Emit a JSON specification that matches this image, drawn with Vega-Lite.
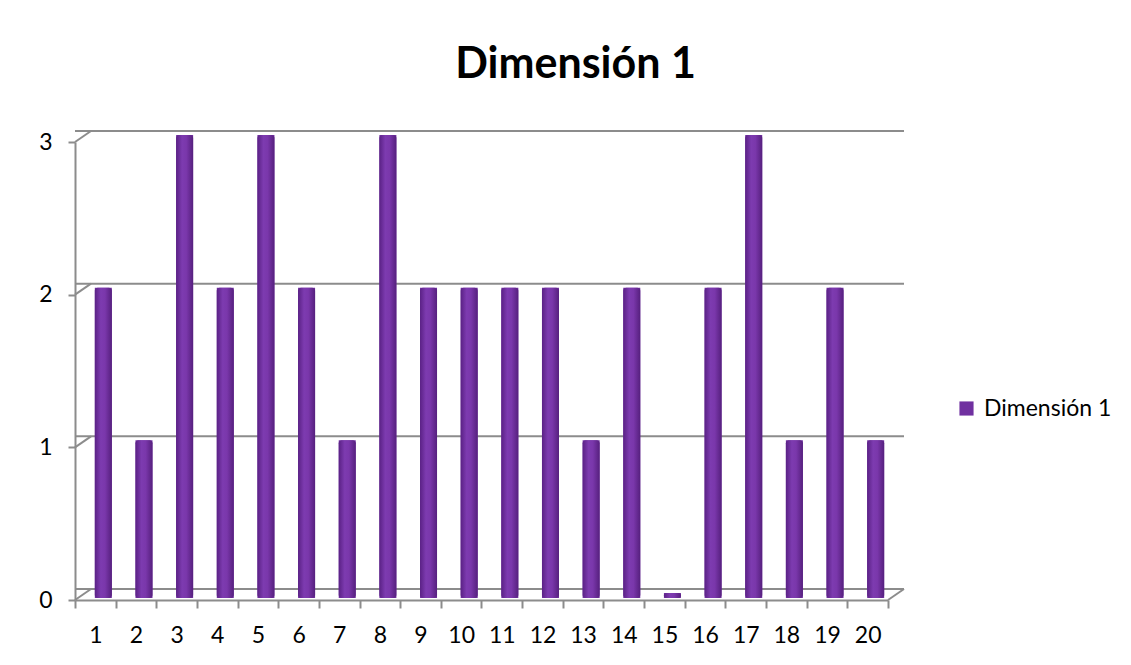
{
  "$schema": "https://vega.github.io/schema/vega-lite/v6.json",
  "autosize": "none",
  "width": 813,
  "height": 458,
  "padding": {"left": 75, "top": 142, "right": 243, "bottom": 65},
  "background": "white",
  "config": {
    "font": "Lato",
    "view": {"stroke": null}
  },
  "title": {
    "text": "Dimensión 1",
    "fontSize": 43,
    "fontWeight": "bold",
    "color": "#000000",
    "anchor": "middle",
    "baseline": "alphabetic",
    "dx": 94,
    "offset": 9
  },
  "datasets": {
    "bars": [
      {"pregunta": 1, "valor": 2, "serie": "Dimensión 1"},
      {"pregunta": 2, "valor": 1, "serie": "Dimensión 1"},
      {"pregunta": 3, "valor": 3, "serie": "Dimensión 1"},
      {"pregunta": 4, "valor": 2, "serie": "Dimensión 1"},
      {"pregunta": 5, "valor": 3, "serie": "Dimensión 1"},
      {"pregunta": 6, "valor": 2, "serie": "Dimensión 1"},
      {"pregunta": 7, "valor": 1, "serie": "Dimensión 1"},
      {"pregunta": 8, "valor": 3, "serie": "Dimensión 1"},
      {"pregunta": 9, "valor": 2, "serie": "Dimensión 1"},
      {"pregunta": 10, "valor": 2, "serie": "Dimensión 1"},
      {"pregunta": 11, "valor": 2, "serie": "Dimensión 1"},
      {"pregunta": 12, "valor": 2, "serie": "Dimensión 1"},
      {"pregunta": 13, "valor": 1, "serie": "Dimensión 1"},
      {"pregunta": 14, "valor": 2, "serie": "Dimensión 1"},
      {"pregunta": 15, "valor": 0, "serie": "Dimensión 1"},
      {"pregunta": 16, "valor": 2, "serie": "Dimensión 1"},
      {"pregunta": 17, "valor": 3, "serie": "Dimensión 1"},
      {"pregunta": 18, "valor": 1, "serie": "Dimensión 1"},
      {"pregunta": 19, "valor": 2, "serie": "Dimensión 1"},
      {"pregunta": 20, "valor": 1, "serie": "Dimensión 1"}
    ],
    "grid": [{"v": 0}, {"v": 1}, {"v": 2}, {"v": 3}]
  },
  "data": {"name": "bars"},
  "resolve": {"axis": {"x": "shared", "y": "shared"}},
  "layer": [
    {
      "data": {"name": "grid"},
      "mark": {"type": "rule", "color": "#8c8c8c", "strokeWidth": 2, "xOffset": 16, "yOffset": -11},
      "encoding": {
        "y": {
          "field": "v",
          "type": "quantitative",
          "scale": {"domain": [0, 3]},
          "axis": {
            "title": null,
            "values": [0, 1, 2, 3],
            "format": "d",
            "labelFontSize": 23,
            "labelColor": "#000000",
            "labelPadding": 16,
            "domainColor": "#8c8c8c",
            "domainWidth": 2,
            "tickColor": "#8c8c8c",
            "tickWidth": 2,
            "tickSize": 7,
            "grid": false
          }
        }
      }
    },
    {
      "data": {"name": "grid"},
      "mark": {"type": "rule", "color": "#8c8c8c", "strokeWidth": 2, "x2Offset": 16, "y2Offset": -11},
      "encoding": {
        "x": {
          "datum": 1,
          "type": "ordinal",
          "bandPosition": 0,
          "scale": {"domain": [1, 2, 3, 4, 5, 6, 7, 8, 9, 10, 11, 12, 13, 14, 15, 16, 17, 18, 19, 20], "paddingInner": 0, "paddingOuter": 0},
          "axis": {
            "title": null,
            "labelAngle": 0,
            "labelFontSize": 23,
            "labelColor": "#000000",
            "labelPadding": 16,
            "domainColor": "#8c8c8c",
            "domainWidth": 2,
            "tickColor": "#8c8c8c",
            "tickWidth": 2,
            "tickSize": 8,
            "tickBand": "extent",
            "grid": false
          }
        },
        "x2": {"datum": 1, "bandPosition": 0},
        "y": {"field": "v", "type": "quantitative"},
        "y2": {"field": "v"}
      }
    },
    {
      "data": {"name": "grid"},
      "transform": [{"filter": "datum.v == 0"}],
      "mark": {"type": "rule", "color": "#8c8c8c", "strokeWidth": 2, "x2Offset": 16, "y2Offset": -11},
      "encoding": {
        "x": {"datum": 20, "type": "ordinal", "bandPosition": 1},
        "x2": {"datum": 20, "bandPosition": 1},
        "y": {"field": "v", "type": "quantitative"},
        "y2": {"field": "v"}
      }
    },
    {
      "mark": {"type": "bar", "width": 17, "xOffset": 8, "yOffset": -7, "y2Offset": -2},
      "encoding": {
        "x": {"field": "pregunta", "type": "ordinal"},
        "y": {"field": "valor", "type": "quantitative"},
        "y2": {"datum": 0},
        "color": {
          "field": "serie",
          "type": "nominal",
          "scale": {"range": ["#7030A0"]},
          "legend": {
            "title": null,
            "orient": "none",
            "legendX": 880,
            "legendY": 255,
            "symbolType": "square",
            "symbolSize": 200,
            "symbolStrokeWidth": 0,
            "labelFontSize": 23,
            "labelColor": "#000000",
            "labelOffset": 6
          }
        }
      }
    },
    {
      "mark": {
        "type": "bar",
        "width": 17,
        "xOffset": 8,
        "yOffset": -7,
        "y2Offset": -2,
        "cornerRadius": 3,
        "fill": {
          "gradient": "linear",
          "x1": 0, "y1": 0, "x2": 1, "y2": 0,
          "stops": [
            {"offset": 0, "color": "#5a2185"},
            {"offset": 0.35, "color": "#7d3bb0"},
            {"offset": 0.6, "color": "#7a37ab"},
            {"offset": 1, "color": "#56207e"}
          ]
        }
      },
      "encoding": {
        "x": {"field": "pregunta", "type": "ordinal"},
        "y": {"field": "valor", "type": "quantitative"},
        "y2": {"datum": 0}
      }
    }
  ]
}
